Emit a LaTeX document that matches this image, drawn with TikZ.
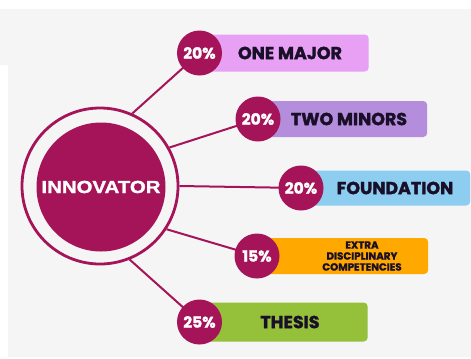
\documentclass[tikz,border=0pt]{standalone}
\usepackage{fontspec}
\setmainfont{Poppins}[BoldFeatures={FakeBold=1.6}]
\newfontfamily\innofont{Liberation Sans}[BoldFeatures={FakeBold=1.5,FakeStretch=1.17}]
\definecolor{mag}{RGB}{165,20,88}
\definecolor{pinkbar}{RGB}{232,160,245}
\definecolor{purplebar}{RGB}{180,142,220}
\definecolor{bluebar}{RGB}{140,205,240}
\definecolor{orangebar}{RGB}{255,168,0}
\definecolor{greenbar}{RGB}{148,192,58}
\definecolor{labeltext}{RGB}{25,15,40}
\definecolor{bggray}{RGB}{245,245,246}
\tikzset{
  conn/.style={draw=mag, line width=2bp},
  bar/.style={rounded corners=4bp, inner sep=0pt, minimum height=37bp, anchor=west},
  pct/.style={circle, fill=mag, inner sep=0pt, minimum size=45bp, text=white, font=\bfseries\fontsize{15.5}{15.5}\selectfont},
  lbl/.style={text=labeltext, font=\bfseries\fontsize{17.5}{17.5}\selectfont, inner sep=0pt},
}
\begin{document}
\begin{tikzpicture}[x=1bp,y=-1bp]
\useasboundingbox (0,0) rectangle (471,358);
\fill[white] (0,0) rectangle (471,358);
\fill[bggray] (0,9) -- (471,9) -- (471,357) -- (8,357) -- (8,65) -- (0,65) -- cycle;
% centre
\node[circle, draw=mag, line width=2.8bp, minimum size=156bp, inner sep=0pt] (ring) at (100,186) {};
\node[circle, fill=mag, minimum size=129bp, inner sep=0pt, text=white,
      font=\innofont\bfseries\fontsize{17.5}{17.5}\selectfont] (core) at (101,187) {INNOVATOR};
% coordinates of percentage circles
\coordinate (c1) at (199.5,53);
\coordinate (c2) at (258,119);
\coordinate (c3) at (301,188);
\coordinate (c4) at (257,256);
\coordinate (c5) at (199.5,322);
% connectors
\draw[conn] (ring.66) -- (c1);
\draw[conn] (ring.29.5) -- (c2);
\draw[conn] (ring.0) -- (c3);
\draw[conn] (ring.-33) -- (c4);
\draw[conn] (ring.-68) -- (c5);
% bars
\node[bar, fill=pinkbar, minimum width=169bp] (b1) at (c1) {};
\node[bar, fill=purplebar, minimum width=169bp, minimum height=36bp] (b2) at (c2) {};
\node[bar, fill=bluebar, minimum width=169bp, minimum height=35bp] (b3) at (c3) {};
\node[bar, fill=orangebar, minimum width=171bp, minimum height=36bp] (b4) at (c4) {};
\node[bar, fill=greenbar, minimum width=168bp, minimum height=39bp] (b5) at (c5) {};
% percentage circles
\node[pct] (p1) at (c1) {20\%};
\node[pct] (p2) at (c2) {20\%};
\node[pct] (p3) at (c3) {20\%};
\node[pct] (p4) at (c4) {15\%};
\node[pct] (p5) at (c5) {25\%};
% labels
\node[lbl] (l1) at (290,53) {ONE MAJOR};
\node[lbl] (l2) at (349,119) {TWO MINORS};
\node[lbl] (l3) at (395,188) {FOUNDATION};
\node[lbl, align=center, font=\bfseries\fontsize{10.3}{11}\selectfont] (l4) at (362,256) {EXTRA\\DISCIPLINARY\\COMPETENCIES};
\node[lbl] (l5) at (290,322) {THESIS};
\end{tikzpicture}
\end{document}
